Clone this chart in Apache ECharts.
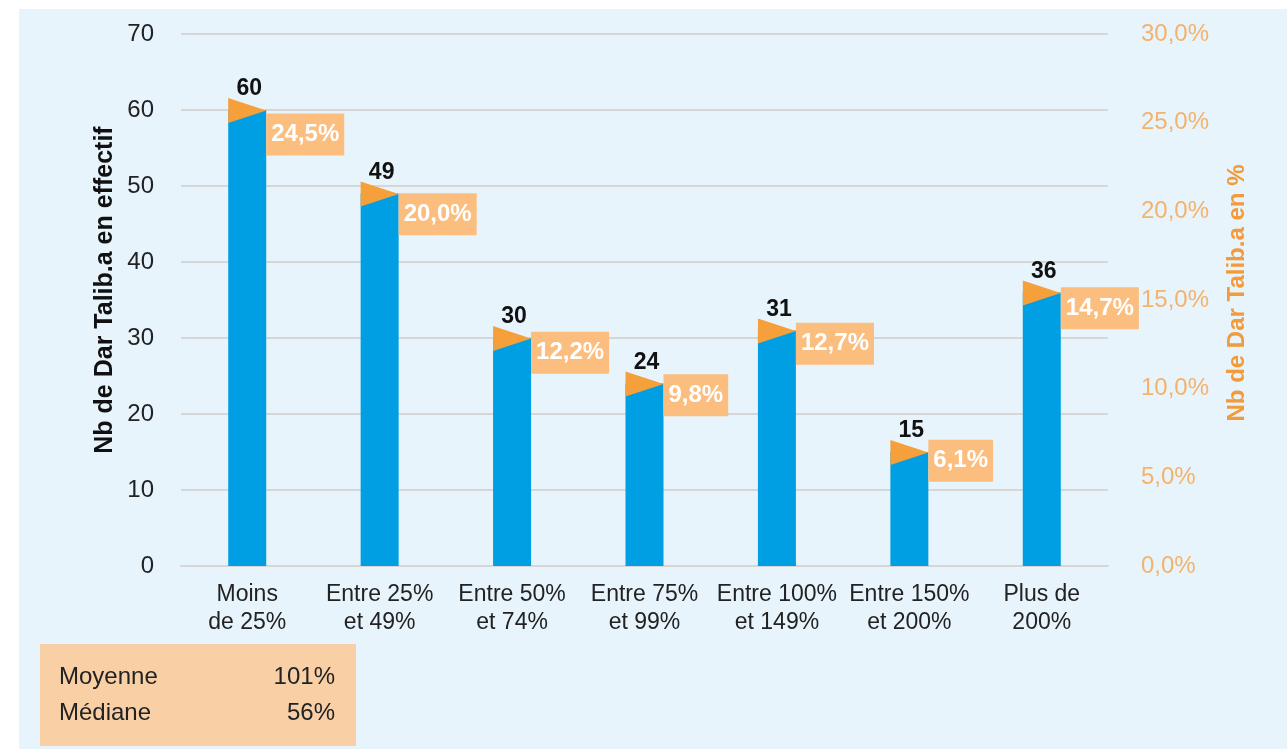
<!DOCTYPE html>
<html>
<head>
<meta charset="utf-8">
<script src="https://cdn.jsdelivr.net/npm/echarts@6/dist/echarts.min.js"></script>
<style>
html,body{margin:0;padding:0;background:#ffffff;}
#bg{position:absolute;left:19px;top:9px;right:0;bottom:0;background:#E7F4FC;}
#main{position:absolute;left:0;top:0;width:1287px;height:749px;}
</style>
</head>
<body>
<div id="bg"></div>
<div id="main"></div>
<script>
const categories = ['Moins\nde 25%', 'Entre 25%\net 49%', 'Entre 50%\net 74%', 'Entre 75%\net 99%', 'Entre 100%\net 149%', 'Entre 150%\net 200%', 'Plus de\n200%'];
const counts = [60, 49, 30, 24, 31, 15, 36];
const percents = [24.5, 20.0, 12.2, 9.8, 12.7, 6.1, 14.7];
const statLabels = ['Moyenne', 'Médiane'];
const statValues = ['101%', '56%'];
const leftTitle = 'Nb de Dar Talib.a en effectif';
const rightTitle = 'Nb de Dar Talib.a en %';

const FONT = '"Liberation Sans", Arial, sans-serif';
const BAR_W = 38;
const fmtPct = v => v.toFixed(1).replace('.', ',') + '%';

const chart = echarts.init(document.getElementById('main'), null, {renderer: 'canvas'});

const graphics = [
  {type: 'text', x: 105, y: 290, rotation: Math.PI / 2,
   style: {text: leftTitle, font: 'bold 25px ' + FONT, fill: '#111', align: 'center', verticalAlign: 'middle'}},
  {type: 'text', x: 1237, y: 293, rotation: Math.PI / 2,
   style: {text: rightTitle, font: 'bold 24px ' + FONT, fill: '#F39A3A', align: 'center', verticalAlign: 'middle'}},
  {type: 'rect', shape: {x: 40, y: 644, width: 316, height: 102}, style: {fill: '#F9CFA5'}}
];
statLabels.forEach((lab, i) => {
  graphics.push({type: 'text', x: 59, y: 677 + i * 36,
    style: {text: lab, font: '24px ' + FONT, fill: '#222', align: 'left', verticalAlign: 'middle'}});
  graphics.push({type: 'text', x: 335, y: 677 + i * 36,
    style: {text: statValues[i], font: '24px ' + FONT, fill: '#222', align: 'right', verticalAlign: 'middle'}});
});

const option = {
  backgroundColor: 'transparent',
  animation: false,
  grid: {left: 181, right: 179, top: 34, bottom: 183},
  xAxis: {
    type: 'category',
    data: categories,
    axisLine: {lineStyle: {color: '#d6d6d6', width: 2}},
    axisTick: {show: false},
    axisLabel: {color: '#222', fontSize: 23, fontFamily: FONT, lineHeight: 28, margin: 15, interval: 0}
  },
  yAxis: [
    {
      type: 'value', min: 0, max: 70, interval: 10,
      axisLine: {show: false}, axisTick: {show: false},
      axisLabel: {color: '#222', fontSize: 24, fontFamily: FONT, margin: 27},
      splitLine: {lineStyle: {color: '#d6d6d6', width: 2}}
    },
    {
      type: 'value', min: 0, max: 30, interval: 5, position: 'right',
      axisLine: {show: false}, axisTick: {show: false},
      axisLabel: {color: '#F5B26B', fontSize: 24, fontFamily: FONT, margin: 33, formatter: fmtPct},
      splitLine: {show: false}
    }
  ],
  graphic: graphics,
  series: [
    {
      type: 'bar', yAxisIndex: 0, data: counts, barWidth: BAR_W,
      itemStyle: {color: '#009FE3'}, z: 2
    },
    {
      type: 'custom', yAxisIndex: 0, z: 5, clip: false,
      data: counts.map((c, i) => [i, c]),
      renderItem: function (params, api) {
        const p = api.coord([api.value(0), api.value(1)]);
        const x0 = p[0] - BAR_W / 2, x1 = p[0] + BAR_W / 2, y = p[1];
        return {
          type: 'group',
          children: [
            {type: 'polygon', shape: {points: [[x0, y - 12], [x0, y + 13], [x1, y + 0.5]]}, style: {fill: '#F6A03C'}},
            {type: 'text', x: p[0] + 2, y: y - 21,
             style: {text: String(api.value(1)), font: 'bold 23px ' + FONT, fill: '#111', align: 'center', verticalAlign: 'middle'}}
          ]
        };
      }
    },
    {
      type: 'custom', yAxisIndex: 1, z: 6, clip: false,
      data: percents.map((v, i) => [i, v]),
      renderItem: function (params, api) {
        const p = api.coord([api.value(0), api.value(1)]);
        return {
          type: 'text', x: p[0] + BAR_W / 2, y: p[1] + 3,
          style: {text: fmtPct(api.value(1)), font: 'bold 24px ' + FONT, fill: '#ffffff',
                  align: 'left', verticalAlign: 'middle', backgroundColor: '#FBBE7E', padding: [9, 5, 9, 5]}
        };
      }
    }
  ]
};
chart.setOption(option);
</script>
</body>
</html>
